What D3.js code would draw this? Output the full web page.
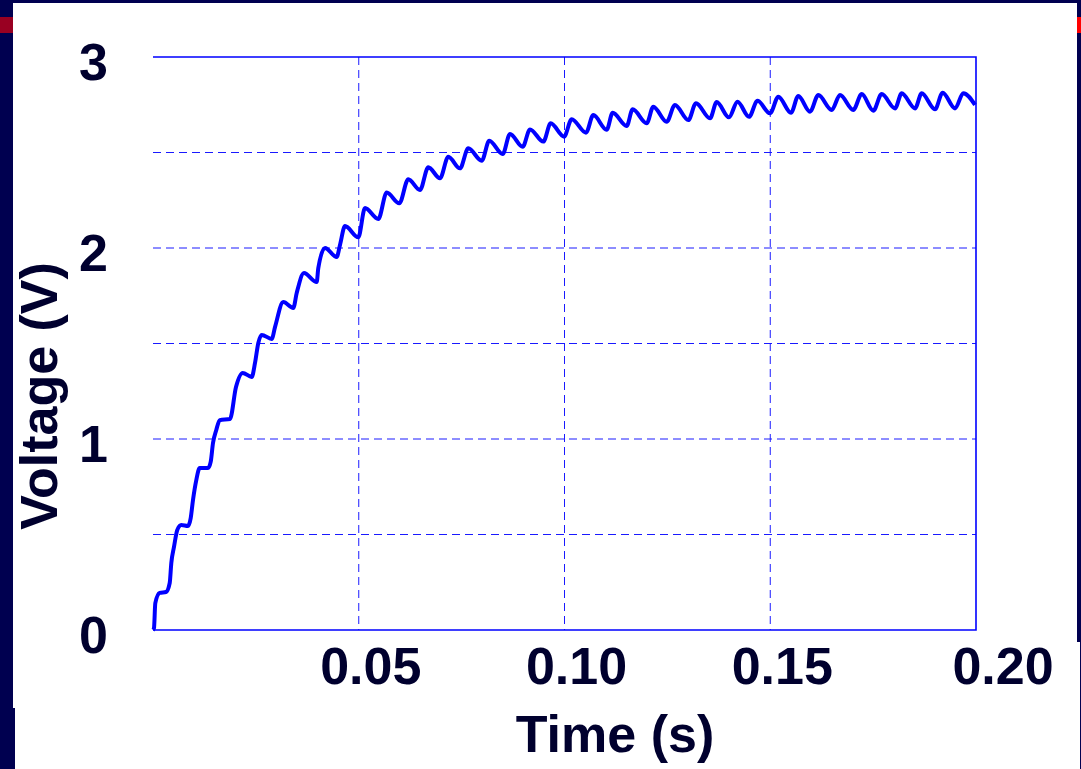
<!DOCTYPE html>
<html>
<head>
  <script src="https://cdnjs.cloudflare.com/ajax/libs/d3/7.8.5/d3.min.js"></script>
  <style>
    body { margin: 0; background: #000050; }
    .grid-line { stroke: #1a1aff; stroke-width: 1; stroke-dasharray: 8 5; }
    .frame-line { stroke: #0000ff; stroke-width: 1.6; }
    .trace { fill: none; stroke: #0000ff; stroke-width: 4; stroke-linejoin: round; }
    text { font-family: "Liberation Sans", Arial, sans-serif; font-weight: bold; fill: #00002e; }
  </style>
</head>
<body>
  <div id="graph"></div>
  <script>
    // data
    const timeS = [0, 0.00024, 0.00056, 0.00163, 0.00316, 0.00406, 0.00445, 0.0051, 0.0059, 0.00688,
      0.0085, 0.00916, 0.00972, 0.01052, 0.01135, 0.01337, 0.01402, 0.01458, 0.01538, 0.01621,
      0.01871, 0.02017, 0.0218, 0.02399, 0.02479, 0.02559, 0.02642, 0.02885, 0.02965, 0.03166,
      0.03409, 0.03492, 0.03669, 0.03978, 0.04017, 0.0418, 0.04464, 0.04544, 0.04666, 0.04989,
      0.05152, 0.05475, 0.05679, 0.05985, 0.06204, 0.06488, 0.0669, 0.06974, 0.07176, 0.0746,
      0.07662, 0.07988, 0.08172, 0.08498, 0.08676, 0.08984, 0.09162, 0.09485, 0.09665, 0.09988,
      0.10175, 0.10522, 0.107, 0.11025, 0.11171, 0.11511, 0.11657, 0.11998, 0.12158, 0.12483,
      0.12685, 0.13009, 0.13196, 0.13536, 0.13698, 0.13997, 0.14204, 0.14484, 0.1469, 0.14994,
      0.15196, 0.15504, 0.15682, 0.15966, 0.16168, 0.16493, 0.16695, 0.17018, 0.17222, 0.17504,
      0.17708, 0.18032, 0.18194, 0.18518, 0.1868, 0.19003, 0.1919, 0.1949, 0.19691, 0.19976];
    const voltage = [0, 0.01, 0.141, 0.194, 0.199, 0.246, 0.351, 0.435, 0.524, 0.55,
      0.545, 0.586, 0.681, 0.785, 0.848, 0.848, 0.88, 0.979, 1.047, 1.099,
      1.105, 1.272, 1.346, 1.325, 1.398, 1.503, 1.545, 1.524, 1.586, 1.717,
      1.686, 1.764, 1.869, 1.822, 1.895, 2.0, 1.953, 2.016, 2.115, 2.056,
      2.209, 2.152, 2.29, 2.234, 2.36, 2.304, 2.423, 2.365, 2.478, 2.417,
      2.522, 2.457, 2.562, 2.492, 2.597, 2.53, 2.621, 2.557, 2.653, 2.583,
      2.674, 2.604, 2.696, 2.619, 2.708, 2.639, 2.726, 2.653, 2.74, 2.661,
      2.749, 2.67, 2.758, 2.679, 2.764, 2.684, 2.766, 2.687, 2.771, 2.705,
      2.792, 2.708, 2.796, 2.714, 2.801, 2.723, 2.801, 2.723, 2.806, 2.719,
      2.806, 2.731, 2.81, 2.731, 2.81, 2.726, 2.813, 2.731, 2.81, 2.749];
    const yTicks = [0, 1, 2, 3];
    const yGrid = [0.5, 1, 1.5, 2, 2.5];
    const xTicks = [0.05, 0.10, 0.15, 0.20];
    const xGrid = [0.05, 0.10, 0.15];
    const xLabels = ["0.05", "0.10", "0.15", "0.20"];

    const W = 1081, H = 769;
    const svg = d3.select("#graph").append("svg")
      .attr("width", W).attr("height", H)
      .style("display", "block");

    // slide background bits
    svg.append("rect").attr("x", 0).attr("y", 0).attr("width", W).attr("height", H).attr("fill", "#000050");
    svg.append("rect").attr("x", 0).attr("y", 17).attr("width", 13).attr("height", 16).attr("fill", "#990022");
    svg.append("rect").attr("x", 1077).attr("y", 17).attr("width", 4).attr("height", 16).attr("fill", "#ff0000");
    svg.append("rect").attr("x", 13).attr("y", 3).attr("width", 1064).attr("height", H - 3).attr("fill", "#fff");
    svg.append("rect").attr("x", 1077).attr("y", 642).attr("width", 3).attr("height", H - 642).attr("fill", "#fff");
    svg.append("rect").attr("x", 13).attr("y", 708).attr("width", 2).attr("height", H - 708).attr("fill", "#000050");

    const x = d3.scaleLinear().domain([0, 0.2]).range([153, 976]);
    const y = d3.scaleLinear().domain([0, 3]).range([630, 57]);

    // grid
    svg.selectAll(".hgrid").data(yGrid).join("line")
      .attr("class", "grid-line")
      .attr("x1", x(0)).attr("x2", x(0.2))
      .attr("y1", d => y(d)).attr("y2", d => y(d));
    svg.selectAll(".vgrid").data(xGrid).join("line")
      .attr("class", "grid-line")
      .attr("x1", d => x(d)).attr("x2", d => x(d))
      .attr("y1", y(3)).attr("y2", y(0));

    // frame (top, right, bottom)
    svg.append("path")
      .attr("class", "frame-line")
      .attr("fill", "none")
      .attr("d", `M${x(0)},${y(3)}H${x(0.2)}V${y(0)}H${x(0)}`);

    // trace
    const line = d3.line()
      .x((d, i) => x(timeS[i]))
      .y(d => y(d))
      .curve(d3.curveMonotoneX);
    svg.append("path")
      .datum(voltage)
      .attr("class", "trace")
      .attr("d", line);

    // tick labels
    svg.selectAll(".ylab").data(yTicks).join("text")
      .attr("x", 108)
      .attr("y", d => y(d) + 23)
      .attr("text-anchor", "end")
      .style("font-size", "52px")
      .text(d => d);

    svg.selectAll(".xlab").data(xTicks).join("text")
      .attr("x", (d, i) => x(d) + (i === xTicks.length - 1 ? 27 : 12))
      .attr("y", 684)
      .attr("text-anchor", "middle")
      .style("font-size", "52px")
      .text((d, i) => xLabels[i]);

    // axis titles
    svg.append("text")
      .attr("x", 615).attr("y", 752)
      .attr("text-anchor", "middle")
      .style("font-size", "52px")
      .text("Time (s)");

    svg.append("text")
      .attr("transform", "translate(57,396) rotate(-90)")
      .attr("text-anchor", "middle")
      .style("font-size", "52px")
      .text("Voltage (V)");
  </script>
</body>
</html>
